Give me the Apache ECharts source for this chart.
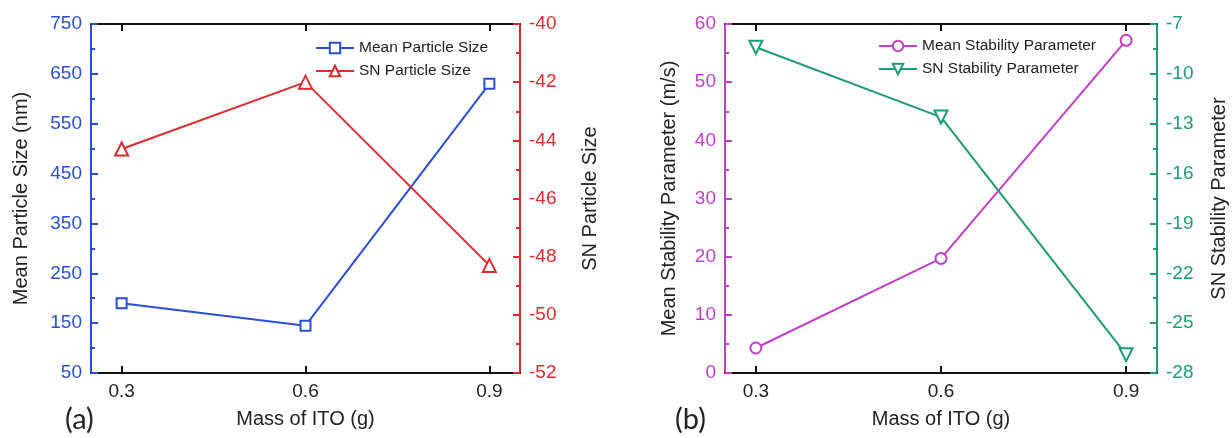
<!DOCTYPE html>
<html>
<head>
<meta charset="utf-8">
<script src="https://cdn.jsdelivr.net/npm/echarts@6/dist/echarts.min.js"></script>
<style>
  html, body { margin: 0; padding: 0; background: #fff; }
  #chart { width: 1232px; height: 438px; }
</style>
</head>
<body>
<div id="chart"></div>
<script>
// Mass of ITO (g) and the four measured responses
const massOfITO = [0.3, 0.6, 0.9];
const meanParticleSize = [190, 145, 630];      // nm
const snParticleSize = [-44.3, -42.0, -48.3];
const meanStability = [4.3, 19.7, 57.2];       // m/s
const snStability = [-8.4, -12.6, -26.9];
const xTickValues = [0.3, 0.6, 0.9];

const BLUE = '#2a4fd6', RED = '#dd2a2e', MAGENTA = '#c23fc8', GREEN = '#1f9b74';
const FONT = '"Liberation Sans", Arial, sans-serif';

const pairs = ys => massOfITO.map((x, i) => [x, ys[i]]);

function xAxisPair(gridIndex) {
  const common = {
    type: 'value', gridIndex, min: 0.25, max: 0.95,
    splitLine: { show: false },
    axisLine: { lineStyle: { color: '#111', width: 2 } },
    axisTick: { inside: true, length: 7, customValues: xTickValues, lineStyle: { color: '#111', width: 2 } }
  };
  return [
    Object.assign({}, common, {
      position: 'bottom',
      name: 'Mass of ITO (g)', nameLocation: 'middle', nameGap: 36,
      nameTextStyle: { fontFamily: FONT, fontSize: 20, color: '#222' },
      axisLabel: { customValues: xTickValues, fontFamily: FONT, fontSize: 19, color: '#222', margin: 9,
                   formatter: v => v.toFixed(1) }
    }),
    Object.assign({}, common, { position: 'top', axisLabel: { show: false } })
  ];
}

function yAxis(gridIndex, position, color, min, max, interval, name, nameGap) {
  return {
    type: 'value', gridIndex, position, min, max, interval,
    name, nameLocation: 'middle', nameGap, nameRotate: 90,
    nameTextStyle: { fontFamily: FONT, fontSize: 20, color: '#222' },
    splitLine: { show: false },
    axisLine: { show: true, lineStyle: { color, width: 2 } },
    axisTick: { show: true, inside: true, length: 7, lineStyle: { color, width: 2 } },
    minorTick: { show: true, splitNumber: 2, length: 4, lineStyle: { color, width: 2 } },
    axisLabel: { fontFamily: FONT, fontSize: 19, color, margin: 9 }
  };
}

function lineSeries(name, data, color, xAxisIndex, yAxisIndex, symbol, symbolSize, symbolRotate) {
  return {
    name, type: 'line', data, xAxisIndex, yAxisIndex,
    symbol, symbolSize, symbolRotate: symbolRotate || 0,
    showSymbol: true, animation: false,
    lineStyle: { color, width: 2 },
    itemStyle: { color, borderColor: color, borderWidth: 2 },
    z: 3
  };
}

const chart = echarts.init(document.getElementById('chart'), null, { renderer: 'canvas' });

const legendText = { fontFamily: FONT, fontSize: 15.5, color: '#222' };

chart.setOption({
  backgroundColor: '#fff',
  animation: false,
  grid: [
    { left: 91, right: 712, top: 24, bottom: 65 },
    { left: 725, right: 75, top: 24, bottom: 65 }
  ],
  xAxis: [...xAxisPair(0), ...xAxisPair(1)],
  yAxis: [
    yAxis(0, 'left', BLUE, 50, 750, 100, 'Mean Particle Size (nm)', 60),
    yAxis(0, 'right', RED, -52, -40, 2, 'SN Particle Size', 60),
    yAxis(1, 'left', MAGENTA, 0, 60, 10, 'Mean Stability Parameter (m/s)', 46),
    yAxis(1, 'right', GREEN, -28, -7, 3, 'SN Stability Parameter', 52)
  ],
  legend: [
    {
      data: ['Mean Particle Size', 'SN Particle Size'],
      orient: 'vertical', left: 315, top: 40, itemGap: 7,
      itemWidth: 38, itemHeight: 13, textStyle: legendText, padding: 0
    },
    {
      data: ['Mean Stability Parameter', 'SN Stability Parameter'],
      orient: 'vertical', left: 878, top: 38, itemGap: 7,
      itemWidth: 38, itemHeight: 13, textStyle: legendText, padding: 0
    }
  ],
  series: [
    lineSeries('Mean Particle Size', pairs(meanParticleSize), BLUE, 0, 0, 'emptyRect', 10),
    lineSeries('SN Particle Size', pairs(snParticleSize), RED, 0, 1, 'emptyTriangle', 13),
    lineSeries('Mean Stability Parameter', pairs(meanStability), MAGENTA, 2, 2, 'emptyCircle', 11),
    lineSeries('SN Stability Parameter', pairs(snStability), GREEN, 2, 3, 'emptyTriangle', 13, 180)
  ],
  graphic: [
    { type: 'text', left: 65, top: 405, style: { text: '(a)', font: '29px Lato, "Open Sans", sans-serif', fill: '#222' } },
    { type: 'text', left: 675, top: 405, style: { text: '(b)', font: '29px Lato, "Open Sans", sans-serif', fill: '#222' } }
  ]
});
</script>
</body>
</html>
